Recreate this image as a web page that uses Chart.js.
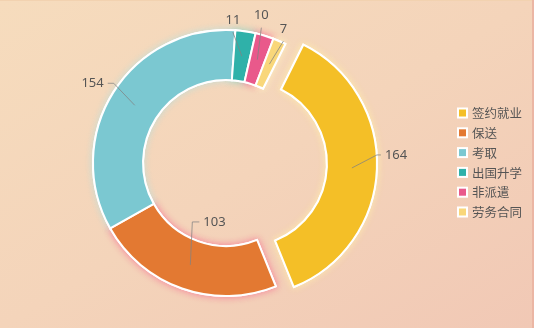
<!DOCTYPE html>
<html><head><meta charset="utf-8">
<script src="https://cdn.jsdelivr.net/npm/chart.js@4.4.1/dist/chart.umd.min.js"></script>
<style>
html,body{margin:0;padding:0;}
body{width:534px;height:328px;overflow:hidden;}
#wrap{position:relative;width:534px;height:328px;
  background:linear-gradient(to bottom right,#f6dcbd 0%,#f4d4ba 50%,#f1c8b5 100%);
  box-shadow:inset -2px 0 0 #ebb6a4, inset 0 1px 0 #f2d2b0;}
canvas{display:block;}
</style></head><body>
<div id="wrap"><canvas id="c" width="534" height="328"></canvas></div>
<script>
// Graduate destinations
const categories = ['签约就业', '保送', '考取', '出国升学', '非派遣', '劳务合同'];
const counts = [164, 103, 154, 11, 10, 7];

// Styling
const sliceColors = ['#f4bf27', '#e37932', '#7bc8d1', '#2fb1a9', '#e9598b', '#f9d77a'];
const glowColors = ['rgba(255,236,170,0.9)', 'rgba(245,120,150,0.9)', 'rgba(170,225,230,0.6)',
                    'rgba(120,210,200,0.7)', 'rgba(245,110,150,0.9)', 'rgba(255,240,190,0.9)'];
const sliceExplode = [18, 0, 0, 0, 0, 0];
// Leader line elbow relative to the ring middle of each slice, and where the value text sits
const labelLayout = [
  {dx: 25, dy: -13, tail: 4, side: 'right'},
  {dx: 2, dy: -43, tail: 7, side: 'right'},
  {dx: -21, dy: -22, tail: -6, side: 'left'},
  {dx: -9, dy: -24, side: 'top'},
  {dx: 4, dy: -32, side: 'top'},
  {dx: 14, dy: -23, side: 'top'}
];

function sliceShift(arc, i) {
  const m = (arc.startAngle + arc.endAngle) / 2;
  return [Math.cos(m) * sliceExplode[i], Math.sin(m) * sliceExplode[i]];
}

// Draw slices with a soft glow, pulling exploded slices outwards
const glowSlices = {
  id: 'glowSlices',
  beforeDatasetDraw(chart, args) {
    const ctx = chart.ctx;
    const arcs = args.meta.data;
    [true, false].forEach(withGlow => {
      arcs.forEach((arc, i) => {
        const [sx, sy] = sliceShift(arc, i);
        ctx.save();
        ctx.translate(sx, sy);
        if (withGlow) { ctx.shadowColor = glowColors[i]; ctx.shadowBlur = 7; }
        arc.draw(ctx);
        ctx.restore();
      });
    });
    return false;
  }
};

// Value labels with leader lines
const valueLabels = {
  id: 'valueLabels',
  afterDatasetsDraw(chart) {
    const ctx = chart.ctx;
    const arcs = chart.getDatasetMeta(0).data;
    ctx.save();
    ctx.font = '13px "Noto Sans", "DejaVu Sans", sans-serif';
    ctx.textBaseline = 'middle';
    arcs.forEach((arc, i) => {
      const lay = labelLayout[i];
      const [sx, sy] = sliceShift(arc, i);
      const m = (arc.startAngle + arc.endAngle) / 2;
      const r = (arc.innerRadius + arc.outerRadius) / 2;
      const ax = arc.x + sx + Math.cos(m) * r;
      const ay = arc.y + sy + Math.sin(m) * r;
      const ex = ax + lay.dx, ey = ay + lay.dy;
      ctx.strokeStyle = 'rgba(130,130,130,0.75)';
      ctx.lineWidth = 1;
      ctx.beginPath();
      ctx.moveTo(ax, ay);
      ctx.lineTo(ex, ey);
      let tx = ex, ty = ey;
      if (lay.side !== 'top') {
        ctx.lineTo(ex + lay.tail, ey);
        tx = ex + lay.tail + (lay.side === 'right' ? 4 : -4);
      }
      ctx.stroke();
      ctx.fillStyle = '#555';
      if (lay.side === 'top') {
        ctx.textAlign = 'center';
        ctx.fillText(String(counts[i]), tx, ty - 12);
      } else {
        ctx.textAlign = lay.side === 'right' ? 'left' : 'right';
        ctx.fillText(String(counts[i]), tx, ty);
      }
    });
    ctx.restore();
  }
};

// Legend on the right
const sideLegend = {
  id: 'sideLegend',
  afterDraw(chart) {
    const ctx = chart.ctx;
    const x0 = 457, y0 = 113, step = 19.8;
    ctx.save();
    ctx.font = '12.5px "Noto Sans CJK SC", "Noto Sans", sans-serif';
    ctx.textBaseline = 'middle';
    ctx.textAlign = 'left';
    categories.forEach((name, i) => {
      const y = y0 + i * step;
      ctx.fillStyle = '#ffffff';
      ctx.fillRect(x0, y - 5.5, 11, 11);
      ctx.fillStyle = sliceColors[i];
      ctx.fillRect(x0 + 2, y - 3.5, 7, 7);
      ctx.fillStyle = '#555';
      ctx.fillText(name, x0 + 15, y + 0.5);
    });
    ctx.restore();
  }
};

new Chart(document.getElementById('c'), {
  type: 'doughnut',
  data: {
    labels: categories,
    datasets: [{
      data: counts,
      backgroundColor: sliceColors,
      borderColor: '#ffffff',
      borderWidth: 2,
      borderJoinStyle: 'miter',
      hoverOffset: 0
    }]
  },
  options: {
    responsive: false,
    devicePixelRatio: 1,
    animation: false,
    events: [],
    rotation: 26.5,
    radius: 133,
    cutout: '62.4%',
    layout: {padding: {left: 0, top: 0, right: 82, bottom: 2}},
    plugins: {legend: {display: false}, tooltip: {enabled: false}}
  },
  plugins: [glowSlices, valueLabels, sideLegend]
});
</script>
</body></html>
